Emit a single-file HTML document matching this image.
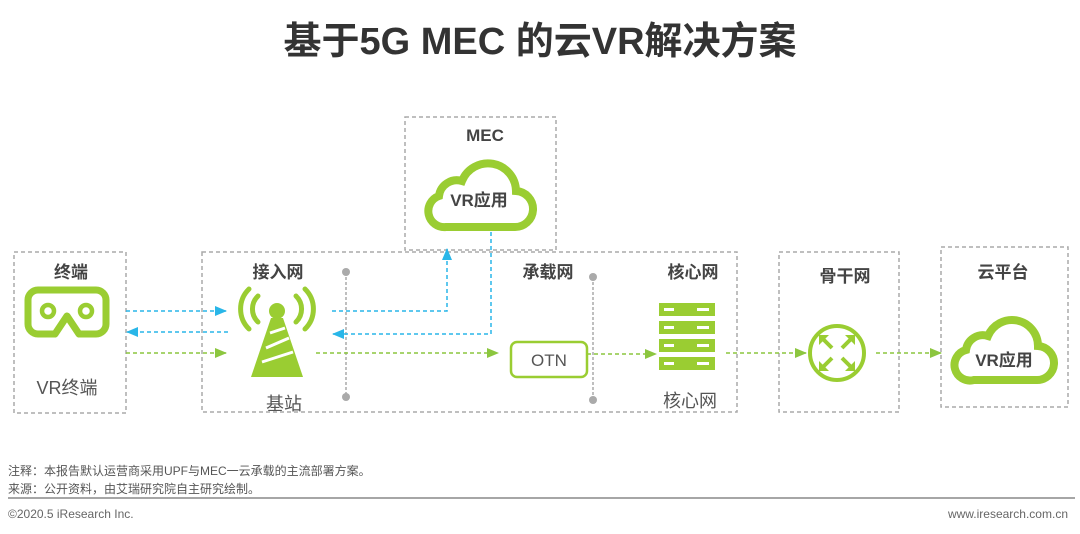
<!DOCTYPE html>
<html><head><meta charset="utf-8"><style>
body{margin:0;background:#fff;}
svg{display:block;}
text{font-family:"Liberation Sans","Noto Sans CJK SC",sans-serif;}
</style></head><body>
<svg width="1080" height="534" viewBox="0 0 1080 534" xmlns="http://www.w3.org/2000/svg">
<defs>
<marker id="ab" markerWidth="12" markerHeight="10" refX="11" refY="5" orient="auto" markerUnits="userSpaceOnUse"><path d="M0,0 L12,5 L0,10z" fill="#29b6e8"/></marker>
<marker id="ag" markerWidth="12" markerHeight="10" refX="11" refY="5" orient="auto" markerUnits="userSpaceOnUse"><path d="M0,0 L12,5 L0,10z" fill="#8cc63f"/></marker>
</defs>
<text x="540" y="54" text-anchor="middle" font-size="38" font-weight="bold" fill="#333">基于5G MEC 的云VR解决方案</text>

<g fill="none" stroke="#aaa" stroke-width="1.5" stroke-dasharray="4,3">
<rect x="14" y="252" width="112" height="161"/>
<rect x="202" y="252" width="535" height="160"/>
<rect x="405" y="117" width="151" height="133"/>
<rect x="779" y="252" width="120" height="160"/>
<rect x="941" y="247" width="127" height="160"/>
</g>

<g font-weight="bold" font-size="17" fill="#444" text-anchor="middle">
<text x="71" y="278">终端</text>
<text x="278" y="278">接入网</text>
<text x="548" y="278">承载网</text>
<text x="693" y="278">核心网</text>
<text x="845" y="282">骨干网</text>
<text x="1003" y="278">云平台</text>
<text x="485" y="141">MEC</text>
</g>
<g font-size="18" fill="#555" text-anchor="middle">
<text x="67" y="394">VR终端</text>
<text x="284" y="410">基站</text>
<text x="690" y="407">核心网</text>
</g>

<!-- VR glasses -->
<path d="M38,290 h58 a10,10 0 0 1 10,10 v24 a10,10 0 0 1 -10,10 h-17 l-12,-18 l-12,18 h-17 a10,10 0 0 1 -10,-10 v-24 a10,10 0 0 1 10,-10z" fill="none" stroke="#9acd32" stroke-width="7" stroke-linejoin="round"/>
<circle cx="48" cy="311" r="6" fill="none" stroke="#9acd32" stroke-width="4.5"/>
<circle cx="86" cy="311" r="6" fill="none" stroke="#9acd32" stroke-width="4.5"/>

<!-- tower -->
<g fill="none" stroke="#9acd32" stroke-width="5" stroke-linecap="round">
<path d="M258,296 a18,18 0 0 0 0,26"/><path d="M296,296 a18,18 0 0 1 0,26"/>
<path d="M249,289 a28,28 0 0 0 0,40"/><path d="M305,289 a28,28 0 0 1 0,40"/>
</g>
<circle cx="277" cy="311" r="8" fill="#9acd32"/>
<path d="M271,318 L283,318 L303,377 L251,377z" fill="#9acd32"/>
<path d="M270,333 L285,328 M266,348 L289,338 M262,362 L293,352" stroke="#fff" stroke-width="3"/>

<!-- clouds -->
<g fill="none" stroke="#9acd32" stroke-width="8">
<path d="M446,227 h68 a18,18 0 0 0 2,-36 a28,28 0 0 0 -54,-10 a18,18 0 0 0 -23,15 a16,16 0 0 0 7,31z"/>
<path d="M974,380 h62 a17,17 0 0 0 2,-34 a26,26 0 0 0 -50,-10 a17,17 0 0 0 -22,14 a15,15 0 0 0 8,30z"/>
</g>
<text x="479" y="206" text-anchor="middle" font-size="17" font-weight="bold" fill="#444">VR应用</text>
<text x="1004" y="366" text-anchor="middle" font-size="17" font-weight="bold" fill="#444">VR应用</text>

<!-- gray vertical lines -->
<g stroke="#aaa" stroke-width="1.5" stroke-dasharray="3,2"><line x1="346" y1="272" x2="346" y2="397"/><line x1="593" y1="277" x2="593" y2="400"/></g>
<g fill="#aaa"><circle cx="346" cy="272" r="4"/><circle cx="346" cy="397" r="4"/><circle cx="593" cy="277" r="4"/><circle cx="593" cy="400" r="4"/></g>

<!-- arrows -->
<g fill="none" stroke-width="1.5" stroke-dasharray="4,3">
<line x1="126" y1="311" x2="226" y2="311" stroke="#29b6e8" marker-end="url(#ab)"/>
<line x1="228" y1="332" x2="127" y2="332" stroke="#29b6e8" marker-end="url(#ab)"/>
<line x1="126" y1="353" x2="226" y2="353" stroke="#8cc63f" marker-end="url(#ag)"/>
<polyline points="332,311 447,311 447,249" stroke="#29b6e8" marker-end="url(#ab)"/>
<polyline points="491,232 491,334 333,334" stroke="#29b6e8" marker-end="url(#ab)"/>
<line x1="316" y1="353" x2="498" y2="353" stroke="#8cc63f" marker-end="url(#ag)"/>
<line x1="587" y1="354" x2="656" y2="354" stroke="#8cc63f" marker-end="url(#ag)"/>
<line x1="726" y1="353" x2="806" y2="353" stroke="#8cc63f" marker-end="url(#ag)"/>
<line x1="876" y1="353" x2="941" y2="353" stroke="#8cc63f" marker-end="url(#ag)"/>
</g>

<!-- OTN -->
<rect x="511" y="342" width="76" height="35" rx="6" fill="#fff" stroke="#9acd32" stroke-width="2.5"/>
<text x="549" y="366" text-anchor="middle" font-size="17" fill="#555">OTN</text>

<!-- server -->
<g fill="#9acd32">
<rect x="659" y="303" width="56" height="13"/><rect x="659" y="321" width="56" height="13"/>
<rect x="659" y="339" width="56" height="13"/><rect x="659" y="357" width="56" height="13"/>
</g>
<g fill="#fff">
<rect x="664" y="308" width="10" height="3"/><rect x="664" y="326" width="10" height="3"/><rect x="664" y="344" width="10" height="3"/><rect x="664" y="362" width="10" height="3"/>
<rect x="697" y="308" width="12" height="3"/><rect x="697" y="326" width="12" height="3"/><rect x="697" y="344" width="12" height="3"/><rect x="697" y="362" width="12" height="3"/>
</g>

<!-- router -->
<circle cx="837" cy="353" r="27" fill="none" stroke="#9acd32" stroke-width="4"/>
<g stroke="#9acd32" stroke-width="4" fill="#9acd32">
<line x1="832" y1="348" x2="823" y2="339"/><path d="M819,335 l10,0 l-10,10z" stroke="none"/>
<line x1="842" y1="348" x2="851" y2="339"/><path d="M855,335 l-10,0 l10,10z" stroke="none"/>
<line x1="832" y1="358" x2="823" y2="367"/><path d="M819,371 l10,0 l-10,-10z" stroke="none"/>
<line x1="842" y1="358" x2="851" y2="367"/><path d="M855,371 l-10,0 l10,-10z" stroke="none"/>
</g>

<!-- footer -->
<text x="8" y="475" font-size="12" fill="#555">注释：本报告默认运营商采用UPF与MEC一云承载的主流部署方案。</text>
<text x="8" y="493" font-size="12" fill="#555">来源：公开资料，由艾瑞研究院自主研究绘制。</text>
<line x1="8" y1="498" x2="1075" y2="498" stroke="#888" stroke-width="1.5"/>
<text x="8" y="518" font-size="12" fill="#666">©2020.5 iResearch Inc.</text>
<text x="1068" y="518" font-size="12" fill="#666" text-anchor="end">www.iresearch.com.cn</text>
</svg>
</body></html>
